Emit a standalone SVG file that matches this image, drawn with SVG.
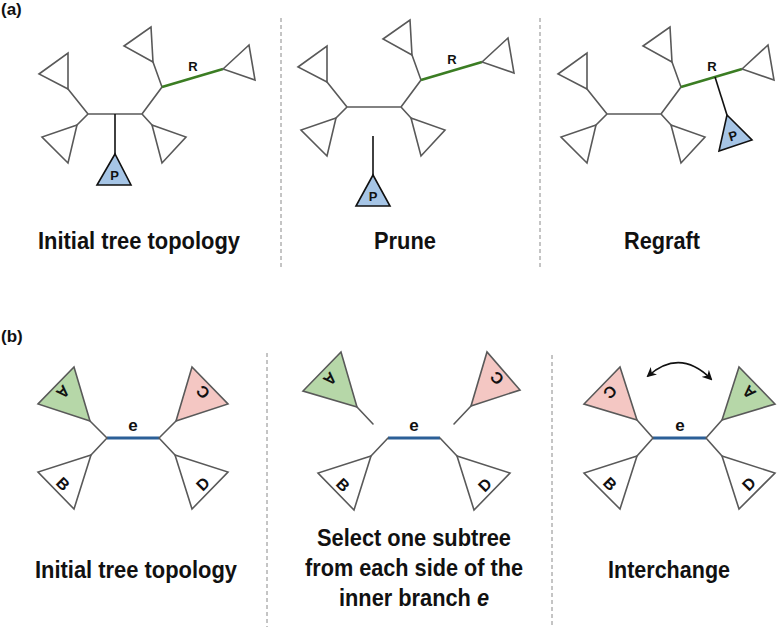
<svg xmlns="http://www.w3.org/2000/svg" width="777" height="627" viewBox="0 0 777 627">
<style>
.br{stroke:#595959;stroke-width:1.6;fill:none;stroke-linecap:round}
.tri{stroke:#595959;stroke-width:1.6;fill:none;stroke-linejoin:miter}
.rb{stroke:#3b7d23;stroke-width:2.6;fill:none}
.pb{stroke:#111;stroke-width:1.6;fill:none}
.pt{stroke:#111;stroke-width:1.6;fill:#a6c5e6}
.eb{stroke:#2b5f97;stroke-width:3;fill:none}
.ga{stroke:#595959;stroke-width:1.6;fill:#b6d7a8}
.pc{stroke:#595959;stroke-width:1.6;fill:#f4c7c3}
.wt{stroke:#595959;stroke-width:1.6;fill:#fff}
.sep{stroke:#8a8a8a;stroke-width:1;stroke-dasharray:4 3;fill:none}
.lab{font-family:"Liberation Sans",Arial,sans-serif;font-weight:bold;font-size:24px;fill:#111;text-anchor:middle}
.pan{font-family:"Liberation Sans",Arial,sans-serif;font-weight:bold;font-size:17px;fill:#111}
.sm{font-family:"Liberation Sans",Arial,sans-serif;font-weight:bold;font-size:13px;fill:#111;text-anchor:middle;dominant-baseline:central}
.lt{font-family:"Liberation Sans",Arial,sans-serif;font-weight:bold;font-size:16px;fill:#111;text-anchor:middle;dominant-baseline:central}
.el{font-family:"Liberation Sans",Arial,sans-serif;font-weight:bold;font-size:17px;fill:#111;text-anchor:middle}
</style>
<defs>
<marker id="ah" viewBox="0 0 10 10" refX="8" refY="5" markerWidth="10" markerHeight="10" markerUnits="userSpaceOnUse" orient="auto-start-reverse">
<path d="M0,0 L10,5 L0,10 L3,5 z" fill="#111"/>
</marker>
</defs>

<text class="pan" x="1" y="15">(a)</text>
<text class="pan" x="1" y="342">(b)</text>

<g id="separators">
<line class="sep" x1="281" y1="18" x2="281" y2="268"/>
<line class="sep" x1="540" y1="18" x2="540" y2="268"/>
<line class="sep" x1="267" y1="353" x2="267" y2="627"/>
<line class="sep" x1="552" y1="355" x2="552" y2="627"/>
</g>

<!-- (a) initial -->
<g id="a-initial">
<g id="a1-connectors">
<path class="br" d="M88,114 H142 M88,114 L68,89 M88,114 L77,125 M142,114 L152,125 M142,114 L162,87 L153,62"/>
<path class="rb" d="M162,87 L223,69"/>
<path class="pb" d="M115,114 V154"/>
</g>
<polygon class="tri" points="68,89 39,74 68,53"/>
<polygon class="tri" points="77,125 42,137 68,163"/>
<polygon class="tri" points="152,125 186,137 162,163"/>
<polygon class="tri" points="153,62 124,46 151,27"/>
<polygon class="tri" points="223,69 249,45 255,80"/>
<g id="a1-P"><polygon class="pt" points="115,154 97,185 131,185"/><text class="sm" x="114.5" y="175">P</text></g>
<text class="sm" x="193" y="66">R</text>
</g>

<!-- (a) prune -->
<g id="a-prune">
<g id="a2-connectors">
<path class="br" d="M347,107 H401 M347,107 L327,82 M347,107 L336,118 M401,107 L411,118 M401,107 L421,80 L412,55"/>
<path class="rb" d="M421,80 L482,62"/>
<path class="pb" d="M373,136 V175"/>
</g>
<polygon class="tri" points="327,82 298,67 327,46"/>
<polygon class="tri" points="336,118 301,130 327,156"/>
<polygon class="tri" points="411,118 445,130 421,156"/>
<polygon class="tri" points="412,55 383,39 410,20"/>
<polygon class="tri" points="482,62 508,38 514,73"/>
<g id="a2-P"><polygon class="pt" points="373,175 356,206 390,206"/><text class="sm" x="373" y="196">P</text></g>
<text class="sm" x="452" y="59">R</text>
</g>

<!-- (a) regraft -->
<g id="a-regraft">
<g id="a3-connectors">
<path class="br" d="M607,114 H661 M607,114 L587,89 M607,114 L596,125 M661,114 L671,125 M661,114 L681,87 L672,62"/>
<path class="rb" d="M681,87 L742,69"/>
<path class="pb" d="M715,77 L727,115"/>
</g>
<polygon class="tri" points="587,89 558,74 587,53"/>
<polygon class="tri" points="596,125 561,137 587,163"/>
<polygon class="tri" points="671,125 705,137 681,163"/>
<polygon class="tri" points="672,62 643,46 670,27"/>
<polygon class="tri" points="742,69 768,45 774,80"/>
<g id="a3-P"><polygon class="pt" points="727,115 719,151 752,140"/><text class="sm" x="0" y="0" transform="translate(733,136) rotate(-17)">P</text></g>
<text class="sm" x="712" y="66">R</text>
</g>

<text class="lab" x="139" y="249" textLength="202" lengthAdjust="spacingAndGlyphs">Initial tree topology</text>
<text class="lab" x="405" y="249" textLength="62" lengthAdjust="spacingAndGlyphs">Prune</text>
<text class="lab" x="662" y="249" textLength="76" lengthAdjust="spacingAndGlyphs">Regraft</text>

<!-- (b) initial -->
<g id="b-initial">
<g id="b1-connectors">
<path class="eb" d="M107,438 H159"/>
<path class="br" d="M107,438 L90,421 M107,438 L91,455 M159,438 L176,421 M159,438 L175,455"/>
</g>
<g id="b1-A"><polygon class="ga" points="90,421 38,404 74,367"/><text class="lt" transform="translate(63,392) rotate(135)">A</text></g>
<g id="b1-B"><polygon class="wt" points="91,455 38,472 74,509"/><text class="lt" transform="translate(63,484) rotate(45)">B</text></g>
<g id="b1-C"><polygon class="pc" points="176,421 228,404 192,367"/><text class="lt" transform="translate(203,392) rotate(-135)">C</text></g>
<g id="b1-D"><polygon class="wt" points="175,455 228,472 192,509"/><text class="lt" transform="translate(203,484) rotate(-45)">D</text></g>
<text class="el" x="133" y="431">e</text>
</g>

<!-- (b) select -->
<g id="b-select">
<g id="b2-connectors">
<path class="eb" d="M388,438 H440"/>
<path class="br" d="M388,438 L371,456 M440,438 L457,456 M373,424 L357,407 M454,424 L471,406"/>
</g>
<g id="b2-A"><polygon class="ga" points="357,407 303,391 341,352"/><text class="lt" transform="translate(330,379) rotate(135)">A</text></g>
<g id="b2-B"><polygon class="wt" points="371,456 318,473 354,510"/><text class="lt" transform="translate(343,485) rotate(45)">B</text></g>
<g id="b2-C"><polygon class="pc" points="471,406 487,352 520,390"/><text class="lt" transform="translate(497,378) rotate(-135)">C</text></g>
<g id="b2-D"><polygon class="wt" points="457,456 510,473 474,510"/><text class="lt" transform="translate(485,485) rotate(-45)">D</text></g>
<text class="el" x="414" y="431">e</text>
</g>

<!-- (b) interchange -->
<g id="b-interchange">
<g id="b3-connectors">
<path class="eb" d="M653,438 H706"/>
<path class="br" d="M653,438 L637,420 M653,438 L637,456 M706,438 L722,420 M706,438 L722,456"/>
<path d="M648,376 Q680,348 711,379" fill="none" stroke="#111" stroke-width="1.6" marker-start="url(#ah)" marker-end="url(#ah)"/>
</g>
<g id="b3-C"><polygon class="pc" points="637,420 584,404 620,367"/><text class="lt" transform="translate(610,392) rotate(135)">C</text></g>
<g id="b3-B"><polygon class="wt" points="637,456 584,473 620,509"/><text class="lt" transform="translate(610,484) rotate(45)">B</text></g>
<g id="b3-A"><polygon class="ga" points="722,420 775,404 739,367"/><text class="lt" transform="translate(749,392) rotate(-135)">A</text></g>
<g id="b3-D"><polygon class="wt" points="722,456 775,473 739,509"/><text class="lt" transform="translate(749,484) rotate(-45)">D</text></g>
<text class="el" x="680" y="431">e</text>
</g>

<text class="lab" x="136" y="578" textLength="202" lengthAdjust="spacingAndGlyphs">Initial tree topology</text>
<text class="lab" x="414" y="546" textLength="194" lengthAdjust="spacingAndGlyphs">Select one subtree</text>
<text class="lab" x="414" y="576" textLength="218" lengthAdjust="spacingAndGlyphs">from each side of the</text>
<text class="lab" x="414" y="606" textLength="150" lengthAdjust="spacingAndGlyphs">inner branch <tspan font-style="italic">e</tspan></text>
<text class="lab" x="669" y="578" textLength="122" lengthAdjust="spacingAndGlyphs">Interchange</text>
</svg>
